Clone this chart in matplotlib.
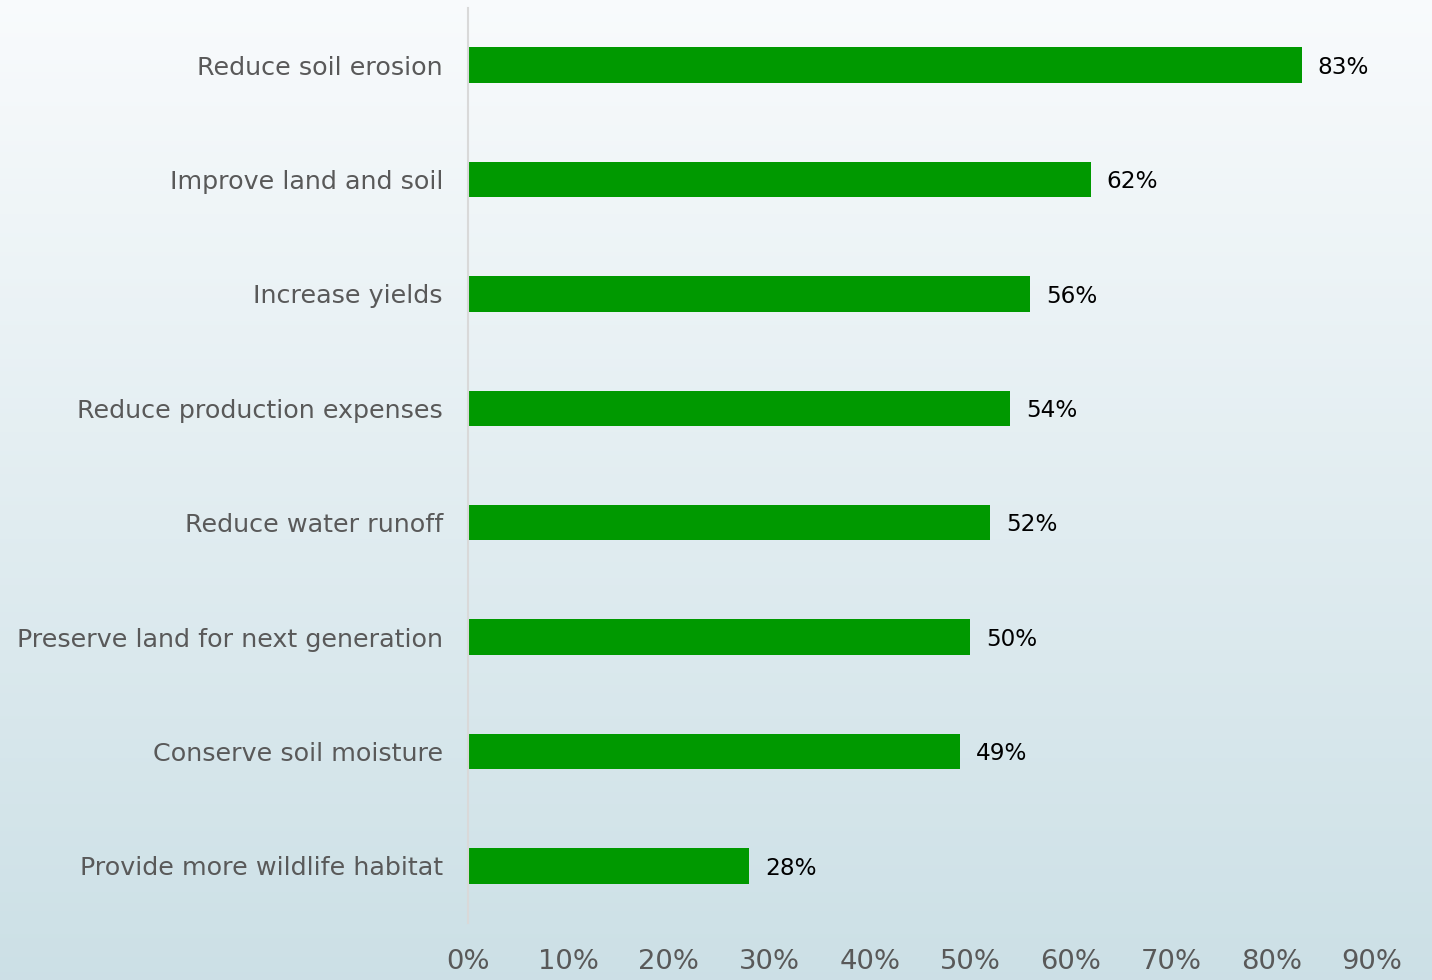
import numpy as np
import matplotlib.pyplot as plt

categories = ['Reduce soil erosion', 'Improve land and soil', 'Increase yields',
              'Reduce production expenses', 'Reduce water runoff',
              'Preserve land for next generation', 'Conserve soil moisture',
              'Provide more wildlife habitat']
values = [83, 62, 56, 54, 52, 50, 49, 28]
ticks = [0, 10, 20, 30, 40, 50, 60, 70, 80, 90]

plt.rcParams['font.family'] = ['DejaVu Sans']

fig = plt.figure(figsize=(14.32, 9.8), dpi=100)

# background gradient
bg = fig.add_axes([0, 0, 1, 1], zorder=-1)
grad = np.linspace(0, 1, 256).reshape(-1, 1)
top = np.array([0.975, 0.984, 0.99])
bottom = np.array([0.80, 0.878, 0.902])
img = top + (bottom - top) * grad[:, :, None]
bg.imshow(img, aspect='auto', extent=[0, 1, 0, 1])
bg.axis('off')

ax = fig.add_axes([0.3268, 0.0582, 0.6313, 0.9336])
ax.patch.set_alpha(0)
y = np.arange(len(categories))
ax.barh(y, values, height=0.31, color='#009900')
for yi, v in zip(y, values):
    ax.text(v + 1.6, yi + 0.02, f'{v}%', va='center', ha='left', fontsize=16.7, color='black')

ax.set_ylim(len(categories) - 0.5, -0.5)
ax.set_xlim(0, 90)
ax.set_yticks(y)
ax.set_yticklabels(categories, fontsize=18.3, color='#595959')
ax.set_xticks(ticks)
ax.set_xticklabels([f'{t}%' for t in ticks], fontsize=19.7, color='#595959')
ax.tick_params(axis='both', length=0)
ax.tick_params(axis='y', pad=18)
ax.tick_params(axis='x', pad=19)
for s in ['top', 'right', 'bottom']:
    ax.spines[s].set_visible(False)
ax.spines['left'].set_color('#d9d9d9')
ax.spines['left'].set_linewidth(1.5)

fig.savefig('out.png', dpi=100)
